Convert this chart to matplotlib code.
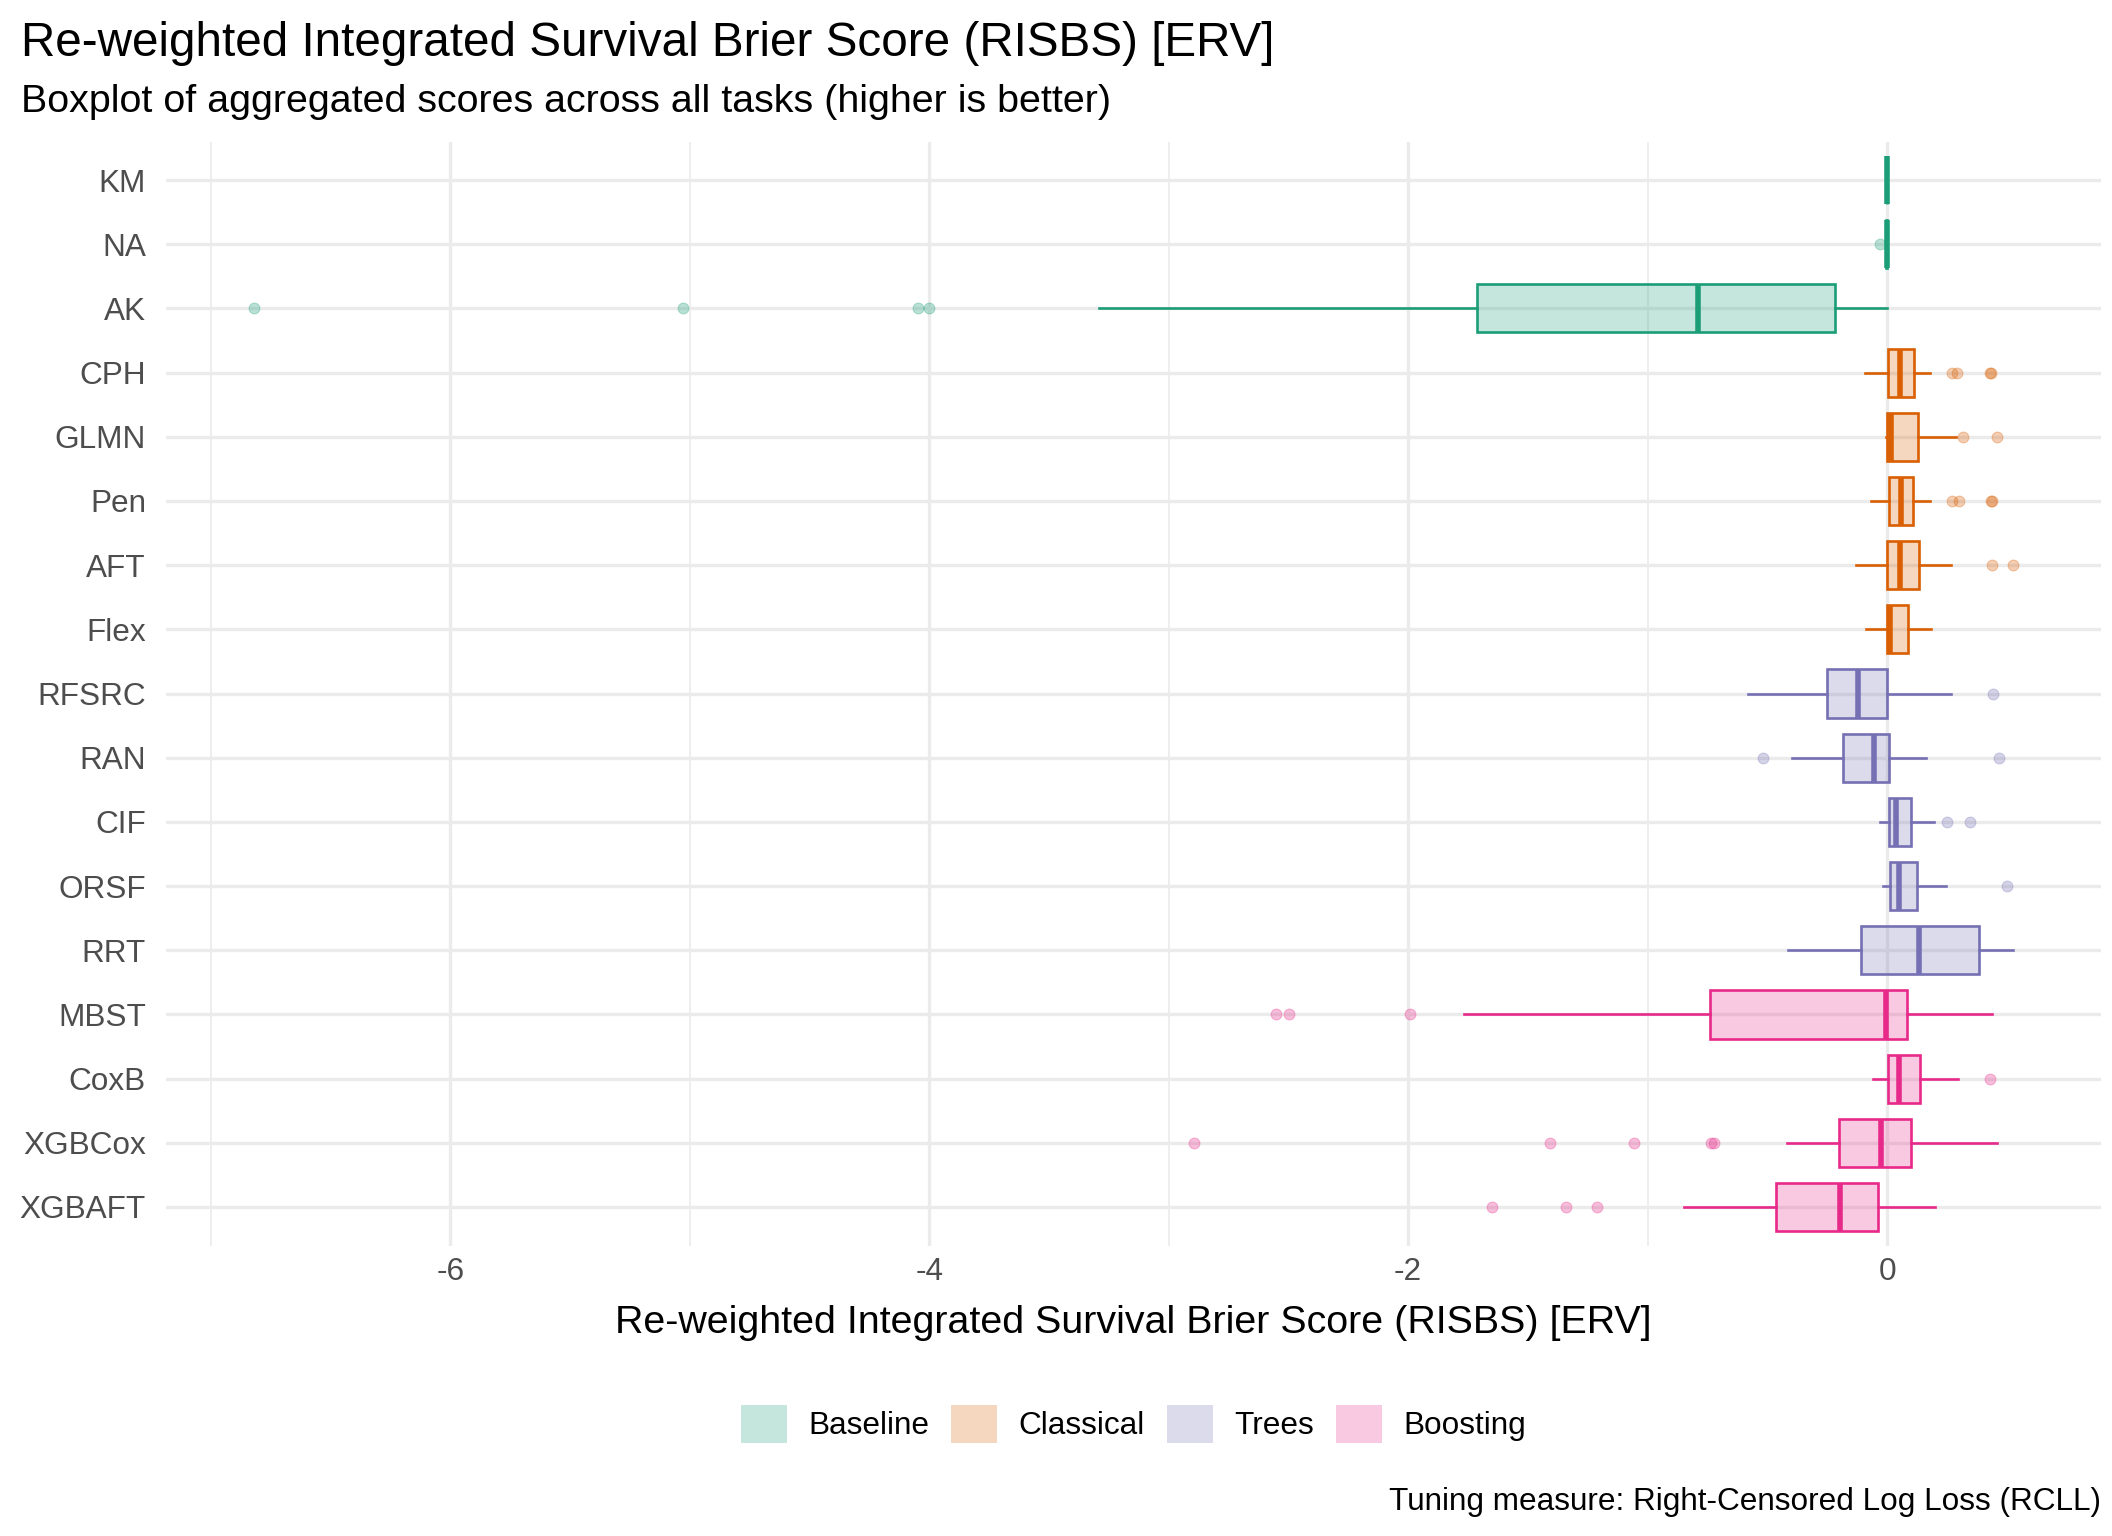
"""
Boxplot of aggregated RISBS scores per learner.
"""

import matplotlib.pyplot as plt
from matplotlib.patches import Patch
from matplotlib.colors import to_rgba

# =====================================================
# Data
# =====================================================

methods = [
    "KM", "NA", "AK", "CPH", "GLMN", "Pen", "AFT", "Flex",
    "RFSRC", "RAN", "CIF", "ORSF", "RRT", "MBST", "CoxB",
    "XGBCox", "XGBAFT",
]

groups = [
    "Baseline", "Baseline", "Baseline",
    "Classical", "Classical", "Classical", "Classical", "Classical",
    "Trees", "Trees", "Trees", "Trees", "Trees",
    "Boosting", "Boosting", "Boosting", "Boosting",
]

whisker_low = [
    0.0, -0.006, -3.29, -0.092, -0.006, -0.067, -0.13, -0.088,
    -0.581, -0.398, -0.029, -0.019, -0.413, -1.766, -0.059,
    -0.417, -0.847,
]

q1 = [
    0.0, -0.003, -1.713, 0.004, 0.0, 0.006, 0.0, 0.0,
    -0.251, -0.185, 0.006, 0.013, -0.109, -0.739, 0.002,
    -0.2, -0.465,
]

median = [
    0.0, -0.001, -0.788, 0.055, 0.017, 0.057, 0.055, 0.013,
    -0.12, -0.053, 0.038, 0.048, 0.135, -0.004, 0.051,
    -0.025, -0.196,
]

q3 = [
    0.0, 0.0, -0.216, 0.113, 0.128, 0.109, 0.132, 0.086,
    0.0, 0.006, 0.101, 0.126, 0.385, 0.082, 0.139,
    0.099, -0.038,
]

whisker_high = [
    0.0, 0.001, 0.0, 0.178, 0.287, 0.178, 0.268, 0.182,
    0.267, 0.164, 0.194, 0.248, 0.524, 0.438, 0.295,
    0.459, 0.2,
]

outliers = [
    [],
    [-0.03],
    [-6.82, -5.03, -4.045, -4.0],
    [0.27, 0.29, 0.43, 0.436],
    [0.315, 0.459],
    [0.273, 0.30, 0.433, 0.437],
    [0.438, 0.526],
    [],
    [0.442],
    [-0.518, 0.467],
    [0.251, 0.345],
    [0.50],
    [],
    [-2.554, -2.497, -1.994],
    [0.43],
    [-2.893, -1.407, -1.056, -0.734, -0.724],
    [-1.65, -1.34, -1.21],
]

group_names = ["Baseline", "Classical", "Trees", "Boosting"]

group_colors = {
    "Baseline": "#1B9E77",
    "Classical": "#D95F02",
    "Trees": "#7570B3",
    "Boosting": "#E7298A",
}

title = "Re-weighted Integrated Survival Brier Score (RISBS) [ERV]"
subtitle = "Boxplot of aggregated scores across all tasks (higher is better)"
x_label = "Re-weighted Integrated Survival Brier Score (RISBS) [ERV]"
caption = "Tuning measure: Right-Censored Log Loss (RCLL)"

# =====================================================
# Figure
# =====================================================

plt.rcParams["font.family"] = ["Liberation Sans", "DejaVu Sans"]

W, H = 2112, 1536

BASE = 28.4
SMALL = 22.7

fig = plt.figure(figsize=(W / 100, H / 100), dpi=100)

ax = fig.add_axes([
    166 / W,
    1 - 1245.5 / H,
    (2101 - 166) / W,
    (1245.5 - 141.5) / H,
])

n = len(methods)

for i in range(n):

    color = group_colors[groups[i]]

    stats = [{
        "whislo": whisker_low[i],
        "q1": q1[i],
        "med": median[i],
        "q3": q3[i],
        "whishi": whisker_high[i],
        "fliers": outliers[i],
    }]

    ax.bxp(
        stats,
        positions=[i],
        widths=0.75,
        orientation="horizontal",
        patch_artist=True,
        showcaps=False,
        boxprops=dict(
            facecolor=to_rgba(color, 0.25),
            edgecolor=color,
            linewidth=1.9,
        ),
        medianprops=dict(color=color, linewidth=4.0, solid_capstyle="butt"),
        whiskerprops=dict(color=color, linewidth=1.9),
        flierprops=dict(
            marker="o",
            markersize=7.8,
            markerfacecolor=color,
            markeredgecolor=color,
            markeredgewidth=0.8,
            alpha=0.3,
        ),
        zorder=3,
    )

# axis limits with ggplot-like 5% expansion
lo = min(min(whisker_low), min(min(o) for o in outliers if o))
hi = max(max(whisker_high), max(max(o) for o in outliers if o))
pad = 0.05 * (hi - lo)
ax.set_xlim(lo - pad, hi + pad)
ax.set_ylim(n - 1 + 0.6, -0.6)

ax.set_yticks(range(n))
ax.set_yticklabels(methods)
ax.set_xticks([-6, -4, -2, 0])
ax.set_xticklabels(["-6", "-4", "-2", "0"])
ax.set_xticks([-7, -5, -3, -1], minor=True)

ax.tick_params(axis="y", length=0, pad=14.4, labelsize=SMALL, labelcolor="#4D4D4D")
ax.tick_params(axis="x", which="both", length=0, pad=8.5, labelsize=SMALL, labelcolor="#4D4D4D")

ax.grid(True, which="major", color="#EBEBEB", linewidth=2.4, zorder=0)
ax.grid(True, which="minor", axis="x", color="#EBEBEB", linewidth=1.2, zorder=0)
ax.set_axisbelow(True)

for spine in ax.spines.values():
    spine.set_visible(False)

# =====================================================
# Texts
# =====================================================

fig.text(21 / W, 1 - 56 / H, title, fontsize=34.3, ha="left", va="baseline")
fig.text(21 / W, 1 - 112 / H, subtitle, fontsize=BASE, ha="left", va="baseline")
fig.text(1133.5 / W, 1 - 1333 / H, x_label, fontsize=BASE, ha="center", va="baseline")
fig.text(2101 / W, 1 - 1510 / H, caption, fontsize=SMALL, ha="right", va="baseline")

# =====================================================
# Legend
# =====================================================

handles = [
    Patch(facecolor=to_rgba(group_colors[g], 0.25), edgecolor="none", label=g)
    for g in group_names
]

fig.legend(
    handles=handles,
    loc="center",
    bbox_to_anchor=(1133.5 / W, 1 - 1424 / H),
    ncol=4,
    frameon=False,
    fontsize=SMALL,
    handlelength=1.46,
    handleheight=1.46,
    handletextpad=0.67,
    columnspacing=0.7,
    borderpad=0,
    borderaxespad=0,
)

fig.savefig("out.png", dpi=100)
